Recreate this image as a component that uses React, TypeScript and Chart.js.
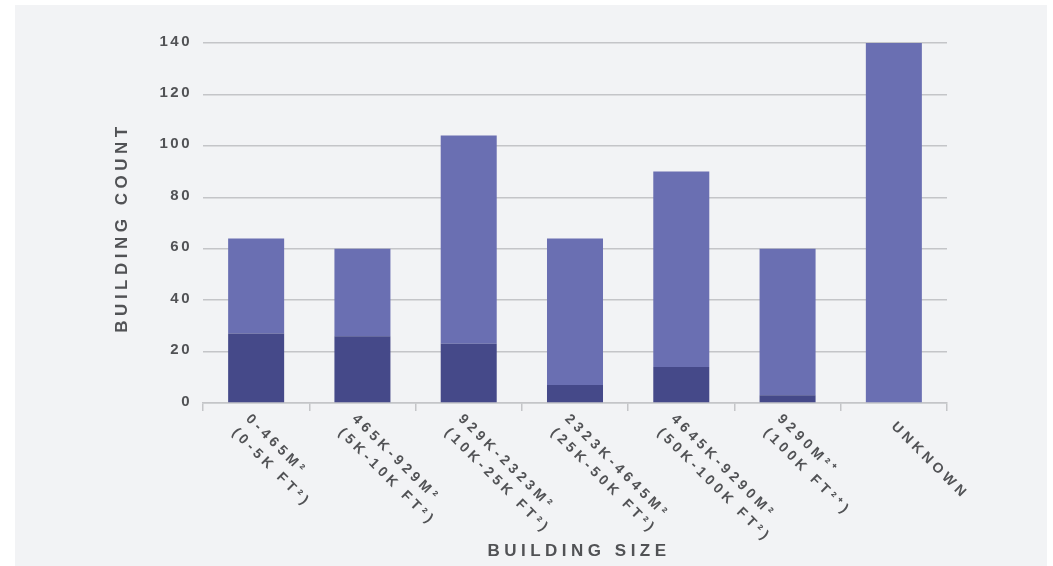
import React, { useEffect, useRef } from "react";
import { Chart, registerables } from "chart.js";

Chart.register(...registerables);

const categories: string[][] = [
  ["0-465M²", "(0-5K FT²)"],
  ["465K-929M²", "(5K-10K FT²)"],
  ["929K-2323M²", "(10K-25K FT²)"],
  ["2323K-4645M²", "(25K-50K FT²)"],
  ["4645K-9290M²", "(50K-100K FT²)"],
  ["9290M²⁺", "(100K FT²⁺)"],
  ["UNKNOWN"],
];

// lower (dark) segment of each stacked bar
const darkSegment = [27, 26, 23, 7, 14, 3, 0];
// upper (light) segment of each stacked bar
const lightSegment = [37, 34, 81, 57, 76, 57, 140];

const yTicks = [0, 20, 40, 60, 80, 100, 120, 140];

const xTitle = "BUILDING SIZE";
const yTitle = "BUILDING COUNT";

const TEXT = "#515255";
const FONT = '"Liberation Sans", Arial, Helvetica, sans-serif';

const decorPlugin = {
  id: "decor",
  beforeDraw(chart: any) {
    const ctx = chart.ctx;
    ctx.save();
    ctx.fillStyle = "#ffffff";
    ctx.fillRect(0, 0, chart.width, chart.height);
    ctx.fillStyle = "#f2f3f5";
    ctx.fillRect(15, 5, chart.width - 21, chart.height - 5);
    ctx.restore();
  },
  afterDraw(chart: any) {
    const ctx = chart.ctx;
    const area = chart.chartArea;
    const xs = chart.scales.x;
    const ys = chart.scales.y;
    ctx.save();
    ctx.fillStyle = TEXT;

    // y tick labels
    ctx.font = `bold 15px ${FONT}`;
    (ctx as any).letterSpacing = "2.5px";
    ctx.textAlign = "right";
    ctx.textBaseline = "middle";
    yTicks.forEach((v) => {
      const y = ys.getPixelForValue(v);
      ctx.fillText(String(v), area.left - 11, y - 1.5);
    });

    // x tick labels (rotated 45deg clockwise, starting at tick)
    ctx.font = `bold 14px ${FONT}`;
    (ctx as any).letterSpacing = "4px";
    ctx.textAlign = "left";
    categories.forEach((lines, i) => {
      const cx = xs.getPixelForValue(i);
      ctx.save();
      ctx.translate(cx, area.bottom);
      ctx.rotate(Math.PI / 4);
      const along = lines.length === 1 ? 15 : 4;
      lines.forEach((ln, j) => {
        ctx.fillText(ln, along, 15.5 + j * 19.5);
      });
      ctx.restore();
    });

    // axis titles
    ctx.font = `bold 17px ${FONT}`;
    (ctx as any).letterSpacing = "4.5px";
    ctx.textAlign = "center";
    ctx.textBaseline = "middle";
    ctx.fillText(xTitle, (area.left + area.right) / 2 + 4, 551);

    ctx.save();
    ctx.translate(area.left - 80.5, (area.top + area.bottom) / 2 + 4.5);
    ctx.rotate(-Math.PI / 2);
    ctx.fillText(yTitle, 0, 0);
    ctx.restore();

    ctx.restore();
  },
};

export default function App() {
  const canvasRef = useRef<HTMLCanvasElement | null>(null);

  useEffect(() => {
    if (!canvasRef.current) return;
    const chart = new Chart(canvasRef.current, {
      type: "bar",
      data: {
        labels: categories.map((c) => c.join(" ")),
        datasets: [
          {
            label: "Dark segment",
            data: darkSegment,
            backgroundColor: "#454989",
            borderWidth: 0,
            borderSkipped: false,
            barPercentage: 0.527,
            categoryPercentage: 1,
          },
          {
            label: "Light segment",
            data: lightSegment,
            backgroundColor: "#6a6fb2",
            borderWidth: 0,
            borderSkipped: false,
            barPercentage: 0.527,
            categoryPercentage: 1,
          },
        ],
      },
      options: {
        responsive: false,
        animation: false,
        layout: { padding: { left: 203, right: 106, top: 43, bottom: 155 } },
        plugins: {
          legend: { display: false },
          tooltip: { enabled: false },
        },
        scales: {
          x: {
            stacked: true,
            offset: true,
            ticks: { display: false },
            grid: {
              display: true,
              drawOnChartArea: false,
              drawTicks: true,
              tickLength: 8,
              color: "#c4c5c8",
              lineWidth: 1.5,
            },
            border: { display: true, color: "#c4c5c8", width: 1.5 },
          },
          y: {
            stacked: true,
            min: 0,
            max: 140,
            ticks: { display: false, stepSize: 20 },
            grid: {
              display: true,
              drawTicks: false,
              color: "#c4c5c8",
              lineWidth: 1.5,
            },
            border: { display: false },
          },
        },
      },
      plugins: [decorPlugin],
    });
    return () => chart.destroy();
  }, []);

  return (
    <div style={{ position: "absolute", left: 0, top: 0, width: 1053, height: 566 }}>
      <canvas ref={canvasRef} width={1053} height={566} style={{ width: 1053, height: 566, display: "block" }} />
    </div>
  );
}
